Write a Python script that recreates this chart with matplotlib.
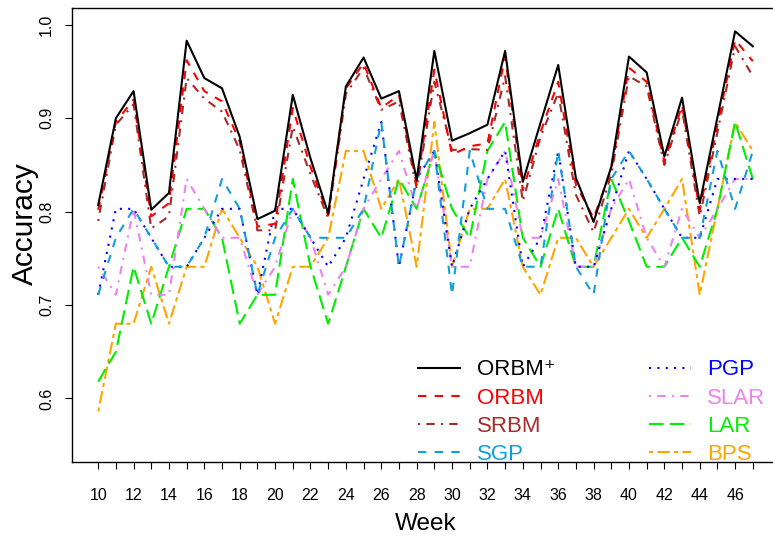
import matplotlib
matplotlib.use("Agg")
import matplotlib.pyplot as plt

plt.rcParams['font.family'] = ['Liberation Sans', 'DejaVu Sans']

weeks = list(range(10, 48))

orbm_plus = [0.807, 0.900, 0.929, 0.802, 0.820, 0.983, 0.943, 0.932, 0.880, 0.792,
             0.801, 0.925, 0.857, 0.798, 0.934, 0.965, 0.921, 0.929, 0.834, 0.972,
             0.876, 0.884, 0.893, 0.972, 0.832, 0.895, 0.957, 0.836, 0.789, 0.848,
             0.966, 0.949, 0.859, 0.922, 0.809, 0.901, 0.993, 0.977]
orbm = [0.802, 0.896, 0.920, 0.795, 0.809, 0.962, 0.929, 0.918, 0.875, 0.784,
        0.787, 0.911, 0.848, 0.796, 0.932, 0.959, 0.911, 0.925, 0.829, 0.952,
        0.861, 0.870, 0.873, 0.966, 0.823, 0.885, 0.939, 0.829, 0.793, 0.845,
        0.954, 0.939, 0.853, 0.914, 0.802, 0.893, 0.984, 0.961]
srbm = [0.790, 0.893, 0.915, 0.782, 0.795, 0.943, 0.921, 0.907, 0.866, 0.780,
        0.780, 0.891, 0.840, 0.793, 0.926, 0.954, 0.909, 0.918, 0.825, 0.939,
        0.866, 0.867, 0.866, 0.945, 0.811, 0.880, 0.927, 0.818, 0.778, 0.840,
        0.945, 0.934, 0.850, 0.909, 0.795, 0.885, 0.977, 0.945]
sgp = [0.711, 0.772, 0.803, 0.772, 0.741, 0.741, 0.772, 0.835, 0.803, 0.711,
       0.772, 0.803, 0.772, 0.772, 0.772, 0.803, 0.896, 0.741, 0.835, 0.865,
       0.711, 0.865, 0.803, 0.803, 0.741, 0.741, 0.865, 0.741, 0.711, 0.835,
       0.865, 0.835, 0.803, 0.772, 0.772, 0.865, 0.803, 0.865]
pgp = [0.711, 0.803, 0.803, 0.772, 0.741, 0.741, 0.772, 0.803, 0.803, 0.711,
       0.803, 0.803, 0.772, 0.741, 0.772, 0.835, 0.896, 0.741, 0.835, 0.865,
       0.741, 0.803, 0.835, 0.865, 0.741, 0.772, 0.865, 0.741, 0.741, 0.803,
       0.865, 0.835, 0.803, 0.772, 0.772, 0.835, 0.835, 0.835]
slar = [0.741, 0.711, 0.803, 0.711, 0.711, 0.835, 0.803, 0.772, 0.772, 0.711,
        0.741, 0.803, 0.772, 0.711, 0.741, 0.803, 0.835, 0.865, 0.803, 0.865,
        0.741, 0.741, 0.835, 0.865, 0.772, 0.772, 0.835, 0.741, 0.741, 0.803,
        0.835, 0.772, 0.741, 0.803, 0.772, 0.803, 0.835, 0.835]
lar = [0.618, 0.650, 0.741, 0.680, 0.741, 0.803, 0.803, 0.772, 0.680, 0.711,
       0.711, 0.835, 0.741, 0.680, 0.741, 0.803, 0.772, 0.835, 0.803, 0.865,
       0.803, 0.772, 0.865, 0.896, 0.772, 0.741, 0.803, 0.741, 0.741, 0.835,
       0.790, 0.741, 0.741, 0.772, 0.741, 0.803, 0.896, 0.835]
bps = [0.586, 0.680, 0.680, 0.741, 0.680, 0.741, 0.741, 0.803, 0.772, 0.741,
       0.680, 0.741, 0.741, 0.772, 0.865, 0.865, 0.803, 0.835, 0.741, 0.896,
       0.741, 0.803, 0.803, 0.835, 0.741, 0.711, 0.772, 0.772, 0.741, 0.772,
       0.803, 0.772, 0.803, 0.835, 0.711, 0.803, 0.896, 0.865]

names = ['ORBM\u207a', 'ORBM', 'SRBM', 'SGP', 'PGP', 'SLAR', 'LAR', 'BPS']
series = [orbm_plus, orbm, srbm, sgp, pgp, slar, lar, bps]
colors = ['black', '#FF0000', '#A52A2A', '#119FDA', '#0000FF', '#EE82EE', '#00EE00', '#FFA500']
# R line types: solid, dashed, dotdash, dashed, dotted, dotdash, longdash, twodash
styles = ['-', (0, (4, 4)), (0, (1, 3, 4, 3)), (0, (4, 4)), (0, (1, 3)),
          (0, (1, 3, 4, 3)), (0, (7, 3)), (0, (2, 2, 6, 2))]

fig = plt.figure(figsize=(7.73, 5.37), dpi=100)
ax = fig.add_axes([72/773, 75/537, 707/773, 454/537])

handles = [None]*8
for i in reversed(range(8)):
    h, = ax.plot(weeks, series[i], color=colors[i], linestyle=styles[i], lw=1.5)
    handles[i] = h

ax.set_xlim(8.52, 48.48)
ax.set_ylim(0.532, 1.018)

ax.set_xticks(weeks)
ax.set_xticklabels([str(w) if w % 2 == 0 else '' for w in weeks], fontsize=11.5)
ax.set_yticks([0.6, 0.7, 0.8, 0.9, 1.0])
ax.set_yticklabels(['0.6', '0.7', '0.8', '0.9', '1.0'], fontsize=11.5, rotation=90, va='center')
ax.tick_params(axis='x', length=5, width=0.8, pad=14)
ax.tick_params(axis='y', length=5, width=0.8, pad=8)
for s in ax.spines.values():
    s.set_linewidth(1.0)

ax.set_xlabel('Week', fontsize=17.5)
ax.xaxis.set_label_coords(0.5, -0.112)
ax.set_ylabel('Accuracy', fontsize=21.5)
ax.yaxis.set_label_coords(-0.047, 0.525)

leg = ax.legend(handles, names, ncol=2, frameon=False, fontsize=16,
                loc='upper left', bbox_to_anchor=(0.489, 0.226),
                borderpad=0, borderaxespad=0, handlelength=1.9,
                handletextpad=0.75, columnspacing=4.2, labelspacing=0.32,
                labelcolor='linecolor')

fig.savefig('out.png', dpi=100)
